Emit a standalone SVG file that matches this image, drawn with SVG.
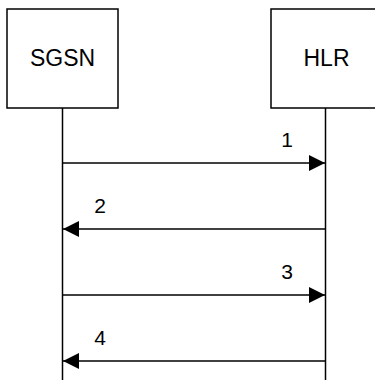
<svg xmlns="http://www.w3.org/2000/svg" width="375" height="380" viewBox="0 0 375 380">
<style>
.box{fill:#fff;stroke:#000;stroke-width:1.5}
.life{stroke:#000;stroke-width:1.5}
.msg{stroke:#000;stroke-width:1.5;fill:none}
.lbl{font-family:"Liberation Sans",Arial,sans-serif;font-size:23px;fill:#000;text-anchor:middle}
.num{font-family:"Liberation Sans",Arial,sans-serif;font-size:21px;fill:#000;text-anchor:middle}
</style>
<defs>
<marker id="ah" markerUnits="userSpaceOnUse" markerWidth="16" markerHeight="16" viewBox="0 0 16 16" refX="16" refY="8" orient="auto">
<path d="M0,0 L16,8 L0,16 Z" fill="#000"/>
</marker>
</defs>
<g id="sgsn">
<rect class="box" x="7" y="9" width="111" height="99"/>
<text class="lbl" x="62.5" y="66">SGSN</text>
<line class="life" x1="62.5" y1="108" x2="62.5" y2="380"/>
</g>
<g id="hlr">
<rect class="box" x="271" y="9" width="111" height="99"/>
<text class="lbl" x="326.5" y="66">HLR</text>
<line class="life" x1="325.5" y1="108" x2="325.5" y2="380"/>
</g>
<g id="connectors">
<line class="msg" x1="62.5" y1="163" x2="325" y2="163" marker-end="url(#ah)"/>
<line class="msg" x1="325.5" y1="229" x2="63" y2="229" marker-end="url(#ah)"/>
<line class="msg" x1="62.5" y1="295" x2="325" y2="295" marker-end="url(#ah)"/>
<line class="msg" x1="325.5" y1="361" x2="63" y2="361" marker-end="url(#ah)"/>
<text class="num" x="287" y="147">1</text>
<text class="num" x="100" y="213">2</text>
<text class="num" x="287" y="279">3</text>
<text class="num" x="100" y="345">4</text>
</g>
</svg>
